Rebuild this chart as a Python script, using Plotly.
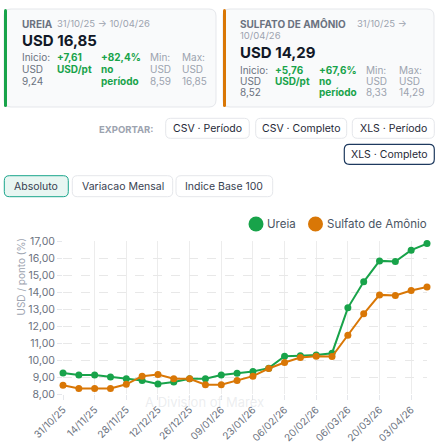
import plotly.graph_objects as go

W, H = 441, 446

dates = [
    "2025-10-31", "2025-11-07", "2025-11-14", "2025-11-21", "2025-11-28",
    "2025-12-05", "2025-12-12", "2025-12-19", "2025-12-26", "2026-01-02",
    "2026-01-09", "2026-01-16", "2026-01-23", "2026-01-30", "2026-02-06",
    "2026-02-13", "2026-02-20", "2026-02-27", "2026-03-06", "2026-03-13",
    "2026-03-20", "2026-03-27", "2026-04-03", "2026-04-10",
]
ureia = [
    9.24, 9.12, 9.12, 9.00, 8.90, 8.80, 8.59, 8.70, 8.90, 8.90,
    9.12, 9.22, 9.32, 9.52, 10.22, 10.25, 10.30, 10.40, 13.07, 14.60,
    15.83, 15.79, 16.46, 16.85,
]
sulfato = [
    8.52, 8.33, 8.33, 8.33, 8.57, 9.05, 9.15, 8.90, 8.90, 8.55,
    8.55, 8.80, 9.05, 9.50, 9.85, 10.15, 10.22, 10.20, 11.45, 12.72,
    13.83, 13.80, 14.09, 14.29,
]
tick_dates = [
    "2025-10-31", "2025-11-14", "2025-11-28", "2025-12-12", "2025-12-26",
    "2026-01-09", "2026-01-23", "2026-02-06", "2026-02-20", "2026-03-06",
    "2026-03-20", "2026-04-03",
]
tick_labels = [
    "31/10/25", "14/11/25", "28/11/25", "12/12/25", "26/12/25", "09/01/26",
    "23/01/26", "06/02/26", "20/02/26", "06/03/26", "20/03/26", "03/04/26",
]

GREEN = "#18a34a"
ORANGE = "#d97706"
FONT = "Inter"


def px(x):
    return x / W


def py(y):
    return 1 - y / H


def rounded(x0, y0, x1, y1, r):
    # rounded rectangle path in paper coords, built from pixel values
    rx, ry = r / W, r / H
    a, b, c, d = px(x0), py(y0), px(x1), py(y1)
    return (f"M{a + rx},{b} L{c - rx},{b} Q{c},{b} {c},{b - ry} "
            f"L{c},{d + ry} Q{c},{d} {c - rx},{d} L{a + rx},{d} "
            f"Q{a},{d} {a},{d + ry} L{a},{b - ry} Q{a},{b} {a + rx},{b} Z")


fig = go.Figure()

fig.add_trace(go.Scatter(
    x=dates, y=ureia, mode="lines+markers", name="Ureia",
    line=dict(color=GREEN, width=2), marker=dict(size=7, color=GREEN),
    cliponaxis=False, showlegend=False,
))
fig.add_trace(go.Scatter(
    x=dates, y=sulfato, mode="lines+markers", name="Sulfato de Amônio",
    line=dict(color=ORANGE, width=2), marker=dict(size=7, color=ORANGE),
    cliponaxis=False, showlegend=False,
))

shapes = []
ann = []


def text(x, y, t, size=10, color="#6b7280", bold=False, anchor="left"):
    if bold:
        t = f"<b>{t}</b>"
    ann.append(dict(x=px(x), y=py(y), xref="paper", yref="paper", text=t,
                    showarrow=False, xanchor=anchor, yanchor="middle",
                    font=dict(family=FONT, size=size, color=color)))


# cards
for (x0, x1, col) in [(4, 216, GREEN), (223, 434, ORANGE)]:
    shapes.append(dict(type="path", path=rounded(x0, 9, x1, 107, 7),
                       xref="paper", yref="paper", fillcolor="#f9fafb",
                       line=dict(color="#e5e7eb", width=1), layer="below"))
    shapes.append(dict(type="path", path=rounded(x0, 9, x0 + 3, 107, 1.5),
                       xref="paper", yref="paper", fillcolor=col,
                       line=dict(width=0), layer="below"))

text(19.5, 23.7, "UREIA", 10, "#6b7280", True)
text(54.5, 23.7, "31/10/25 → 10/04/26", 9.5, "#9ca3af")
text(19.5, 40.5, "USD 16,85", 15, "#111827", True)
cols1 = [
    (19.5, ["Inicio:", "USD", "9,24"], "#6b7280", False),
    (55, ["+7,61", "USD/pt"], GREEN, True),
    (99, ["+82,4%", "no", "período"], GREEN, True),
    (148, ["Min:", "USD", "8,59"], "#9ca3af", False),
    (179.5, ["Max:", "USD", "16,85"], "#9ca3af", False),
]
for x, lines, c, b in cols1:
    for i, ln in enumerate(lines):
        text(x, 57.5 + i * 11.5, ln, 10, c, b)

text(237.5, 23.7, "SULFATO DE AMÔNIO", 10, "#6b7280", True)
text(355, 23.7, "31/10/25 →", 9.5, "#9ca3af")
text(237.5, 35.2, "10/04/26", 9.5, "#9ca3af")
text(237.5, 52.7, "USD 14,29", 15, "#111827", True)
cols2 = [
    (237.5, ["Inicio:", "USD", "8,52"], "#6b7280", False),
    (273.3, ["+5,76", "USD/pt"], GREEN, True),
    (317.3, ["+67,6%", "no", "período"], GREEN, True),
    (364.3, ["Min:", "USD", "8,33"], "#9ca3af", False),
    (396.7, ["Max:", "USD", "14,29"], "#9ca3af", False),
]
for x, lines, c, b in cols2:
    for i, ln in enumerate(lines):
        text(x, 69.7 + i * 11.3, ln, 10, c, b)

# export buttons
text(126, 129, "EXPORTAR:", 9.5, "#9ca3af", True, "center")
buttons = [
    (165.7, 118.3, 249.3, 138.3, "CSV · Período", "#e5e7eb", "#ffffff"),
    (255.7, 118.3, 346.7, 138.3, "CSV · Completo", "#e5e7eb", "#ffffff"),
    (352.3, 118.3, 434.3, 138.3, "XLS · Período", "#e5e7eb", "#ffffff"),
    (344.3, 144.3, 434.3, 164.3, "XLS · Completo", "#1e3a5f", "#ffffff"),
    (4.3, 175.7, 68.3, 196.7, "Absoluto", "#1aa58c", "#e8f6f2"),
    (72.3, 175.7, 172.7, 196.7, "Variacao Mensal", "#e5e7eb", "#ffffff"),
    (176, 175.7, 272.7, 196.7, "Indice Base 100", "#e5e7eb", "#ffffff"),
]
for x0, y0, x1, y1, t, bc, fc in buttons:
    shapes.append(dict(type="path", path=rounded(x0, y0, x1, y1, 5),
                       xref="paper", yref="paper", fillcolor=fc,
                       line=dict(color=bc, width=1.2 if bc == "#1e3a5f" else 1)))
    tc = "#1f2937" if y0 < 170 else "#374151"
    text((x0 + x1) / 2, (y0 + y1) / 2, t, 10.5, tc, False, "center")

# legend drawn by hand
for cx, col, label, lx in [(256, GREEN, "Ureia", 265), (315.5, ORANGE, "Sulfato de Amônio", 325)]:
    shapes.append(dict(type="circle", xref="paper", yref="paper",
                       xsizemode="pixel", ysizemode="pixel",
                       xanchor=px(cx), yanchor=py(224),
                       x0=-7.5, x1=7.5, y0=-7.5, y1=7.5,
                       fillcolor=col, line=dict(width=0)))
    text(lx, 224, label, 11.5, "#4b5563")

# y title
ann.append(dict(x=px(12), y=py(318), xref="paper", yref="paper",
                text="USD / ponto (%)", textangle=-90, showarrow=False,
                font=dict(family=FONT, size=10, color="#9ca3af")))

# faint watermark
text(204, 401.5, "A Division of Marex", 13, "rgba(200,205,210,0.35)", False, "center")

fig.update_layout(
    width=W, height=H,
    margin=dict(l=0, r=0, t=0, b=0, autoexpand=False),
    paper_bgcolor="#ffffff", plot_bgcolor="#ffffff",
    separators=",.",
    shapes=shapes, annotations=ann,
    font=dict(family=FONT, color="#6b7280"),
    xaxis=dict(
        domain=[px(63), px(427)], type="date", automargin=False,
        range=[dates[0], dates[-1]],
        tickvals=tick_dates, ticktext=tick_labels, tickangle=-45,
        tickfont=dict(size=10, color="#6b7280"),
        showgrid=True, gridcolor="#ececec", gridwidth=1,
        ticks="outside", ticklen=5, tickcolor="#e5e7eb",
        showline=False, zeroline=False,
    ),
    yaxis=dict(
        domain=[py(394), py(241)], range=[8, 17], dtick=1, automargin=False,
        tickformat=".2f",
        tickfont=dict(size=10.5, color="#6b7280"),
        showgrid=True, gridcolor="#e8e8e8", griddash="dash",
        ticks="outside", ticklen=5, tickcolor="#e5e7eb",
        showline=False, zeroline=False,
    ),
    showlegend=False,
)

# the page body has a default 8px margin; drop it so the figure fills the window
fig.write_html("out.html", config={"displayModeBar": False},
               post_script="document.body.style.margin='0';")
